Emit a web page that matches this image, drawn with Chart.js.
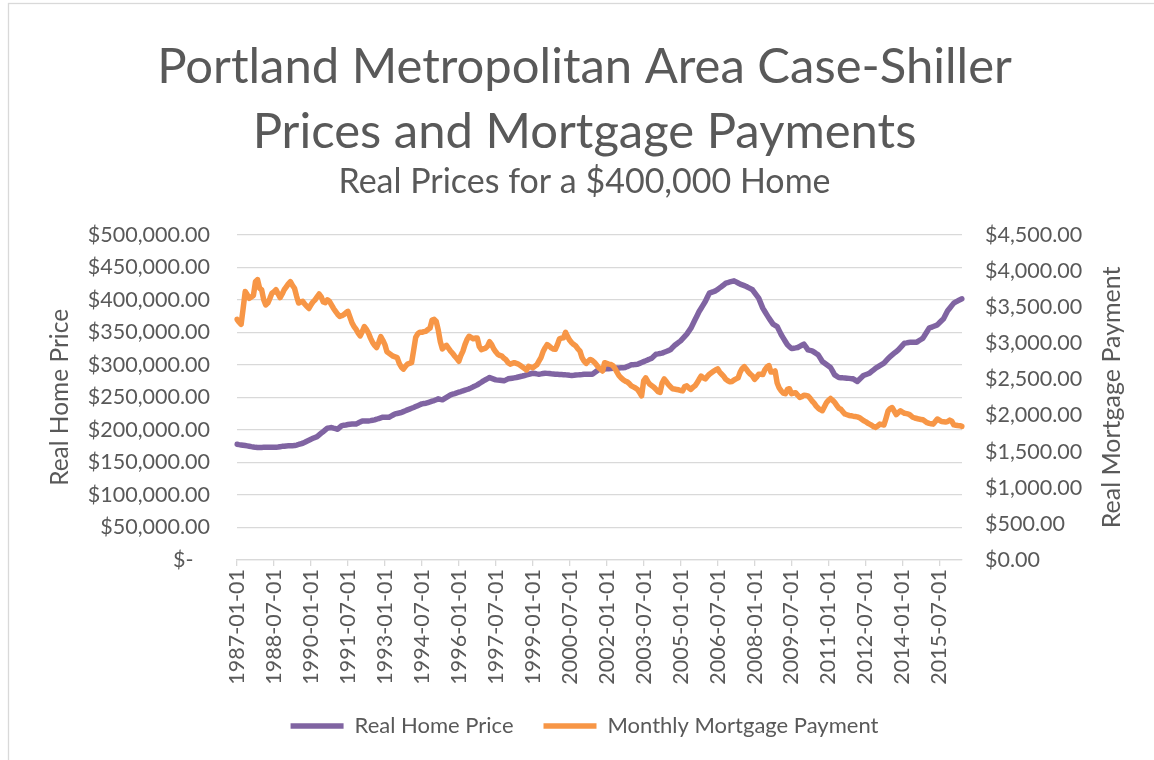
<!DOCTYPE html>
<html>
<head>
<meta charset="utf-8">
<title>Portland Case-Shiller Prices and Mortgage Payments</title>
<script src="https://cdn.jsdelivr.net/npm/chart.js@4.4.1/dist/chart.umd.min.js"></script>
<style>
  html, body { margin: 0; padding: 0; background: #fff; }
  #wrap { width: 1154px; height: 760px; }
</style>
</head>
<body>
<div id="wrap"><canvas id="homeChart" width="1154" height="760"></canvas></div>
<script>
// monthly values, 1987-01 .. 2016-06 (one row per year)
const startYear = 1987;
const realHomePrice = [
  178000,177400,176900,176400,175900,175400,174900,174300,173800,173200,172800,172900,
  173100,173200,173300,173400,173200,173300,173500,173300,173700,174200,174700,175000,
  175400,175500,175600,175800,175900,176700,177600,178600,179500,181000,182600,184100,
  185600,187000,188400,189700,192300,194900,197500,200100,202600,203100,203600,202700,
  201900,201000,203800,206600,207100,207600,208200,208700,208900,209000,209200,210700,
  212300,213800,213800,213700,213800,214300,214900,215400,216400,217500,218500,219500,
  219600,219400,219500,221200,222900,224600,225300,226000,226700,228100,229400,230800,
  232000,233200,234400,235800,237200,238600,240000,240500,241000,242000,243000,244100,
  245100,246400,247700,246900,246200,248100,250000,251900,253800,254900,255900,257000,
  258000,259000,260100,261100,262100,263100,264600,266200,267700,269200,271300,273300,
  275400,277100,278800,280500,279300,278100,276900,276500,276200,275800,275400,276900,
  278500,279000,279500,280000,280500,281300,282100,282800,283600,284500,285400,286300,
  287200,286700,286100,285600,286100,286700,287200,286900,286600,286200,285900,285600,
  285400,285200,285000,284800,284600,284300,283900,283600,283900,284300,284600,284900,
  285100,285400,285600,285600,285600,285600,287800,290100,292300,292700,293100,293500,
  293800,294100,294300,294600,294900,295100,295300,295500,295700,295900,297300,298600,
  300000,300300,300700,301000,302300,303600,304900,306200,307600,308900,310300,313400,
  316400,316900,317500,318000,319300,320600,321800,323100,326400,329700,332100,334500,
  336900,340300,343800,347200,351800,356400,362800,369200,375600,382000,387100,392300,
  397400,403900,410300,411500,412600,413800,416000,418300,420500,423100,425600,426500,
  427400,428300,429200,427500,425800,424100,422900,421700,420500,418800,417100,415400,
  411100,406900,402600,394900,387200,382100,376900,371800,367200,362600,360800,358900,
  352600,346200,341100,335900,330800,327900,325000,325600,326100,326700,328400,330100,
  331800,327500,323100,322300,321500,319500,317400,315400,310300,305100,302800,300500,
  298200,295900,290300,284600,282600,280500,280300,280000,279800,279500,279200,278800,
  278500,276500,274400,277500,280500,283600,284800,286000,287200,289800,292300,294900,
  296800,298800,300700,302600,306000,309400,312800,315400,317900,320500,323100,326500,
  329900,333300,333800,334400,334900,334900,334900,334900,337000,339000,341100,346200,
  351300,356400,357700,358900,360200,361500,364600,367700,370800,377000,383100,387000,
  391000,394900,396700,398500,400000,401500
];
const mortgagePayment = [
  3330,3290,3260,3480,3715,3670,3620,3640,3660,3850,3880,3760,
  3740,3600,3530,3555,3620,3690,3710,3740,3680,3630,3680,3740,
  3780,3820,3850,3800,3760,3650,3555,3570,3580,3540,3510,3480,
  3530,3570,3600,3640,3680,3640,3570,3560,3600,3580,3530,3480,
  3440,3400,3370,3380,3395,3420,3440,3360,3280,3230,3190,3140,
  3100,3160,3230,3190,3140,3070,3010,2970,2940,3010,3090,3040,
  2980,2880,2860,2840,2820,2810,2800,2720,2670,2640,2680,2710,
  2720,2730,2900,3080,3130,3150,3150,3160,3165,3190,3210,3320,
  3330,3300,3180,3020,2920,2950,2970,2930,2890,2860,2820,2790,
  2750,2830,2890,2980,3050,3095,3080,3060,3070,3070,2950,2910,
  2920,2930,2960,3020,2980,2920,2880,2845,2830,2820,2790,2770,
  2730,2710,2720,2730,2720,2710,2690,2670,2650,2630,2680,2670,
  2660,2680,2700,2750,2800,2880,2935,2980,2960,2935,2920,2915,
  2980,3060,3070,3075,3150,3090,3040,3005,2980,2960,2920,2890,
  2800,2750,2720,2750,2775,2760,2735,2700,2665,2640,2615,2730,
  2720,2710,2705,2690,2650,2600,2550,2520,2495,2475,2465,2440,
  2410,2395,2380,2360,2320,2270,2480,2520,2470,2430,2410,2390,
  2360,2330,2320,2450,2505,2470,2430,2400,2370,2365,2360,2355,
  2345,2340,2400,2410,2380,2360,2390,2410,2450,2500,2545,2520,
  2505,2540,2570,2590,2610,2630,2645,2600,2570,2540,2500,2480,
  2465,2470,2490,2505,2520,2600,2650,2675,2640,2600,2570,2545,
  2500,2530,2570,2570,2565,2630,2670,2690,2600,2600,2615,2450,
  2380,2340,2310,2300,2360,2370,2300,2310,2315,2280,2250,2260,
  2280,2275,2270,2240,2200,2170,2130,2100,2080,2065,2120,2175,
  2210,2235,2210,2180,2140,2100,2085,2050,2020,2010,2000,1995,
  1990,1986,1980,1970,1950,1930,1915,1895,1880,1865,1845,1835,
  1855,1880,1875,1867,1960,2060,2095,2110,2060,2010,2040,2065,
  2045,2030,2025,2018,2000,1975,1965,1958,1950,1945,1940,1920,
  1900,1890,1885,1880,1915,1950,1935,1915,1913,1910,1915,1935,
  1920,1870,1865,1860,1858,1848
];
const labelEvery = 18; // one date label every 18 months

const months = [];
for (let i = 0; i < realHomePrice.length; i++) {
  const yr = startYear + Math.floor(i / 12);
  const mo = String((i % 12) + 1).padStart(2, '0');
  months.push(yr + '-' + mo + '-01');
}

const textGrey = '#595959';
const gridGrey = '#d9d9d9';
const fontFam = 'Lato, "Open Sans", sans-serif';
Chart.defaults.font.family = fontFam;
Chart.defaults.color = textGrey;

function money(v) {
  if (v === 0) return '$-   ';
  return '$' + v.toLocaleString('en-US', { minimumFractionDigits: 2, maximumFractionDigits: 2 });
}
function money0(v) {
  return '$' + v.toLocaleString('en-US', { minimumFractionDigits: 2, maximumFractionDigits: 2 });
}

// white page, light frame and the right axis title (reads bottom to top)
const frame = {
  id: 'frame',
  beforeDraw(chart) {
    const ctx = chart.ctx;
    ctx.save();
    ctx.fillStyle = '#fff';
    ctx.fillRect(0, 0, chart.width, chart.height);
    ctx.strokeStyle = gridGrey;
    ctx.lineWidth = 1.3;
    ctx.strokeRect(8.5, 3.5, chart.width + 20, chart.height + 20);
    ctx.restore();
  },
  afterDraw(chart) {
    const ctx = chart.ctx;
    const sc = chart.scales.y1;
    const area = chart.chartArea;
    ctx.save();
    ctx.translate(sc.right - 42, (area.top + area.bottom) / 2);
    ctx.rotate(-Math.PI / 2);
    ctx.font = '25px ' + fontFam;
    ctx.fillStyle = textGrey;
    ctx.textAlign = 'center';
    ctx.textBaseline = 'middle';
    ctx.fillText('Real Mortgage Payment', 0, 0);
    ctx.restore();
  }
};

const ctx = document.getElementById('homeChart').getContext('2d');
const myChart = new Chart(ctx, {
  type: 'line',
  data: {
    labels: months,
    datasets: [{
      label: 'Real Home Price',
      data: realHomePrice,
      yAxisID: 'y',
      borderColor: '#8064a2',
      backgroundColor: '#8064a2',
      borderWidth: 5.5,
      borderCapStyle: 'round',
      borderJoinStyle: 'round',
      pointRadius: 0,
      order: 1
    }, {
      label: 'Monthly Mortgage Payment',
      data: mortgagePayment,
      yAxisID: 'y1',
      borderColor: '#f79646',
      backgroundColor: '#f79646',
      borderWidth: 5.5,
      borderCapStyle: 'round',
      borderJoinStyle: 'round',
      pointRadius: 0,
      order: 0
    }]
  },
  options: {
    responsive: false,
    animation: false,
    layout: { padding: { left: 15, right: 0, top: 0, bottom: 13 } },
    plugins: {
      title: {
        display: true,
        text: ['Portland Metropolitan Area Case-Shiller', 'Prices and Mortgage Payments'],
        font: { size: 49, weight: 'normal', lineHeight: 1.327 },
        color: textGrey,
        padding: { top: 34.7, bottom: 0 }
      },
      subtitle: {
        display: true,
        text: 'Real Prices for a $400,000 Home',
        font: { size: 34, weight: 'normal', lineHeight: 1 },
        color: textGrey,
        padding: { top: 0, bottom: 36 }
      },
      legend: {
        position: 'bottom',
        labels: {
          usePointStyle: true,
          pointStyle: 'line',
          pointStyleWidth: 53,
          font: { size: 22 },
          color: textGrey,
          padding: 30,
          sort: (a, b) => a.datasetIndex - b.datasetIndex
        }
      },
      tooltip: { enabled: false }
    },
    scales: {
      x: {
        grid: { display: true, drawOnChartArea: false, drawTicks: true, tickLength: 6, color: gridGrey, lineWidth: 1.3 },
        border: { display: true, color: gridGrey, width: 1.3 },
        ticks: {
          autoSkip: false,
          minRotation: 90,
          maxRotation: 90,
          padding: 3,
          font: { size: 21.5 },
          callback: function (value, index) {
            return index % labelEvery === 0 ? this.getLabelForValue(value) : null;
          }
        },
        afterFit: function (scale) { scale.height = 125; }
      },
      y: {
        position: 'left',
        min: 0,
        max: 500000,
        grid: { color: gridGrey, lineWidth: 1.3, drawTicks: false },
        border: { display: false },
        ticks: { stepSize: 50000, padding: 27, font: { size: 21.5 }, callback: v => money(v) },
        title: { display: true, text: 'Real Home Price', font: { size: 24.5 }, color: textGrey, padding: { top: 30, bottom: 0 } },
        afterFit: function (scale) { scale.width = 222; }
      },
      y1: {
        position: 'right',
        min: 0,
        max: 4500,
        grid: { display: false, drawTicks: false },
        border: { display: false },
        ticks: { stepSize: 500, padding: 23, font: { size: 21.5 }, callback: v => money0(v) },
        afterFit: function (scale) { scale.width = 192; }
      }
    }
  },
  plugins: [frame]
});
</script>
</body>
</html>
